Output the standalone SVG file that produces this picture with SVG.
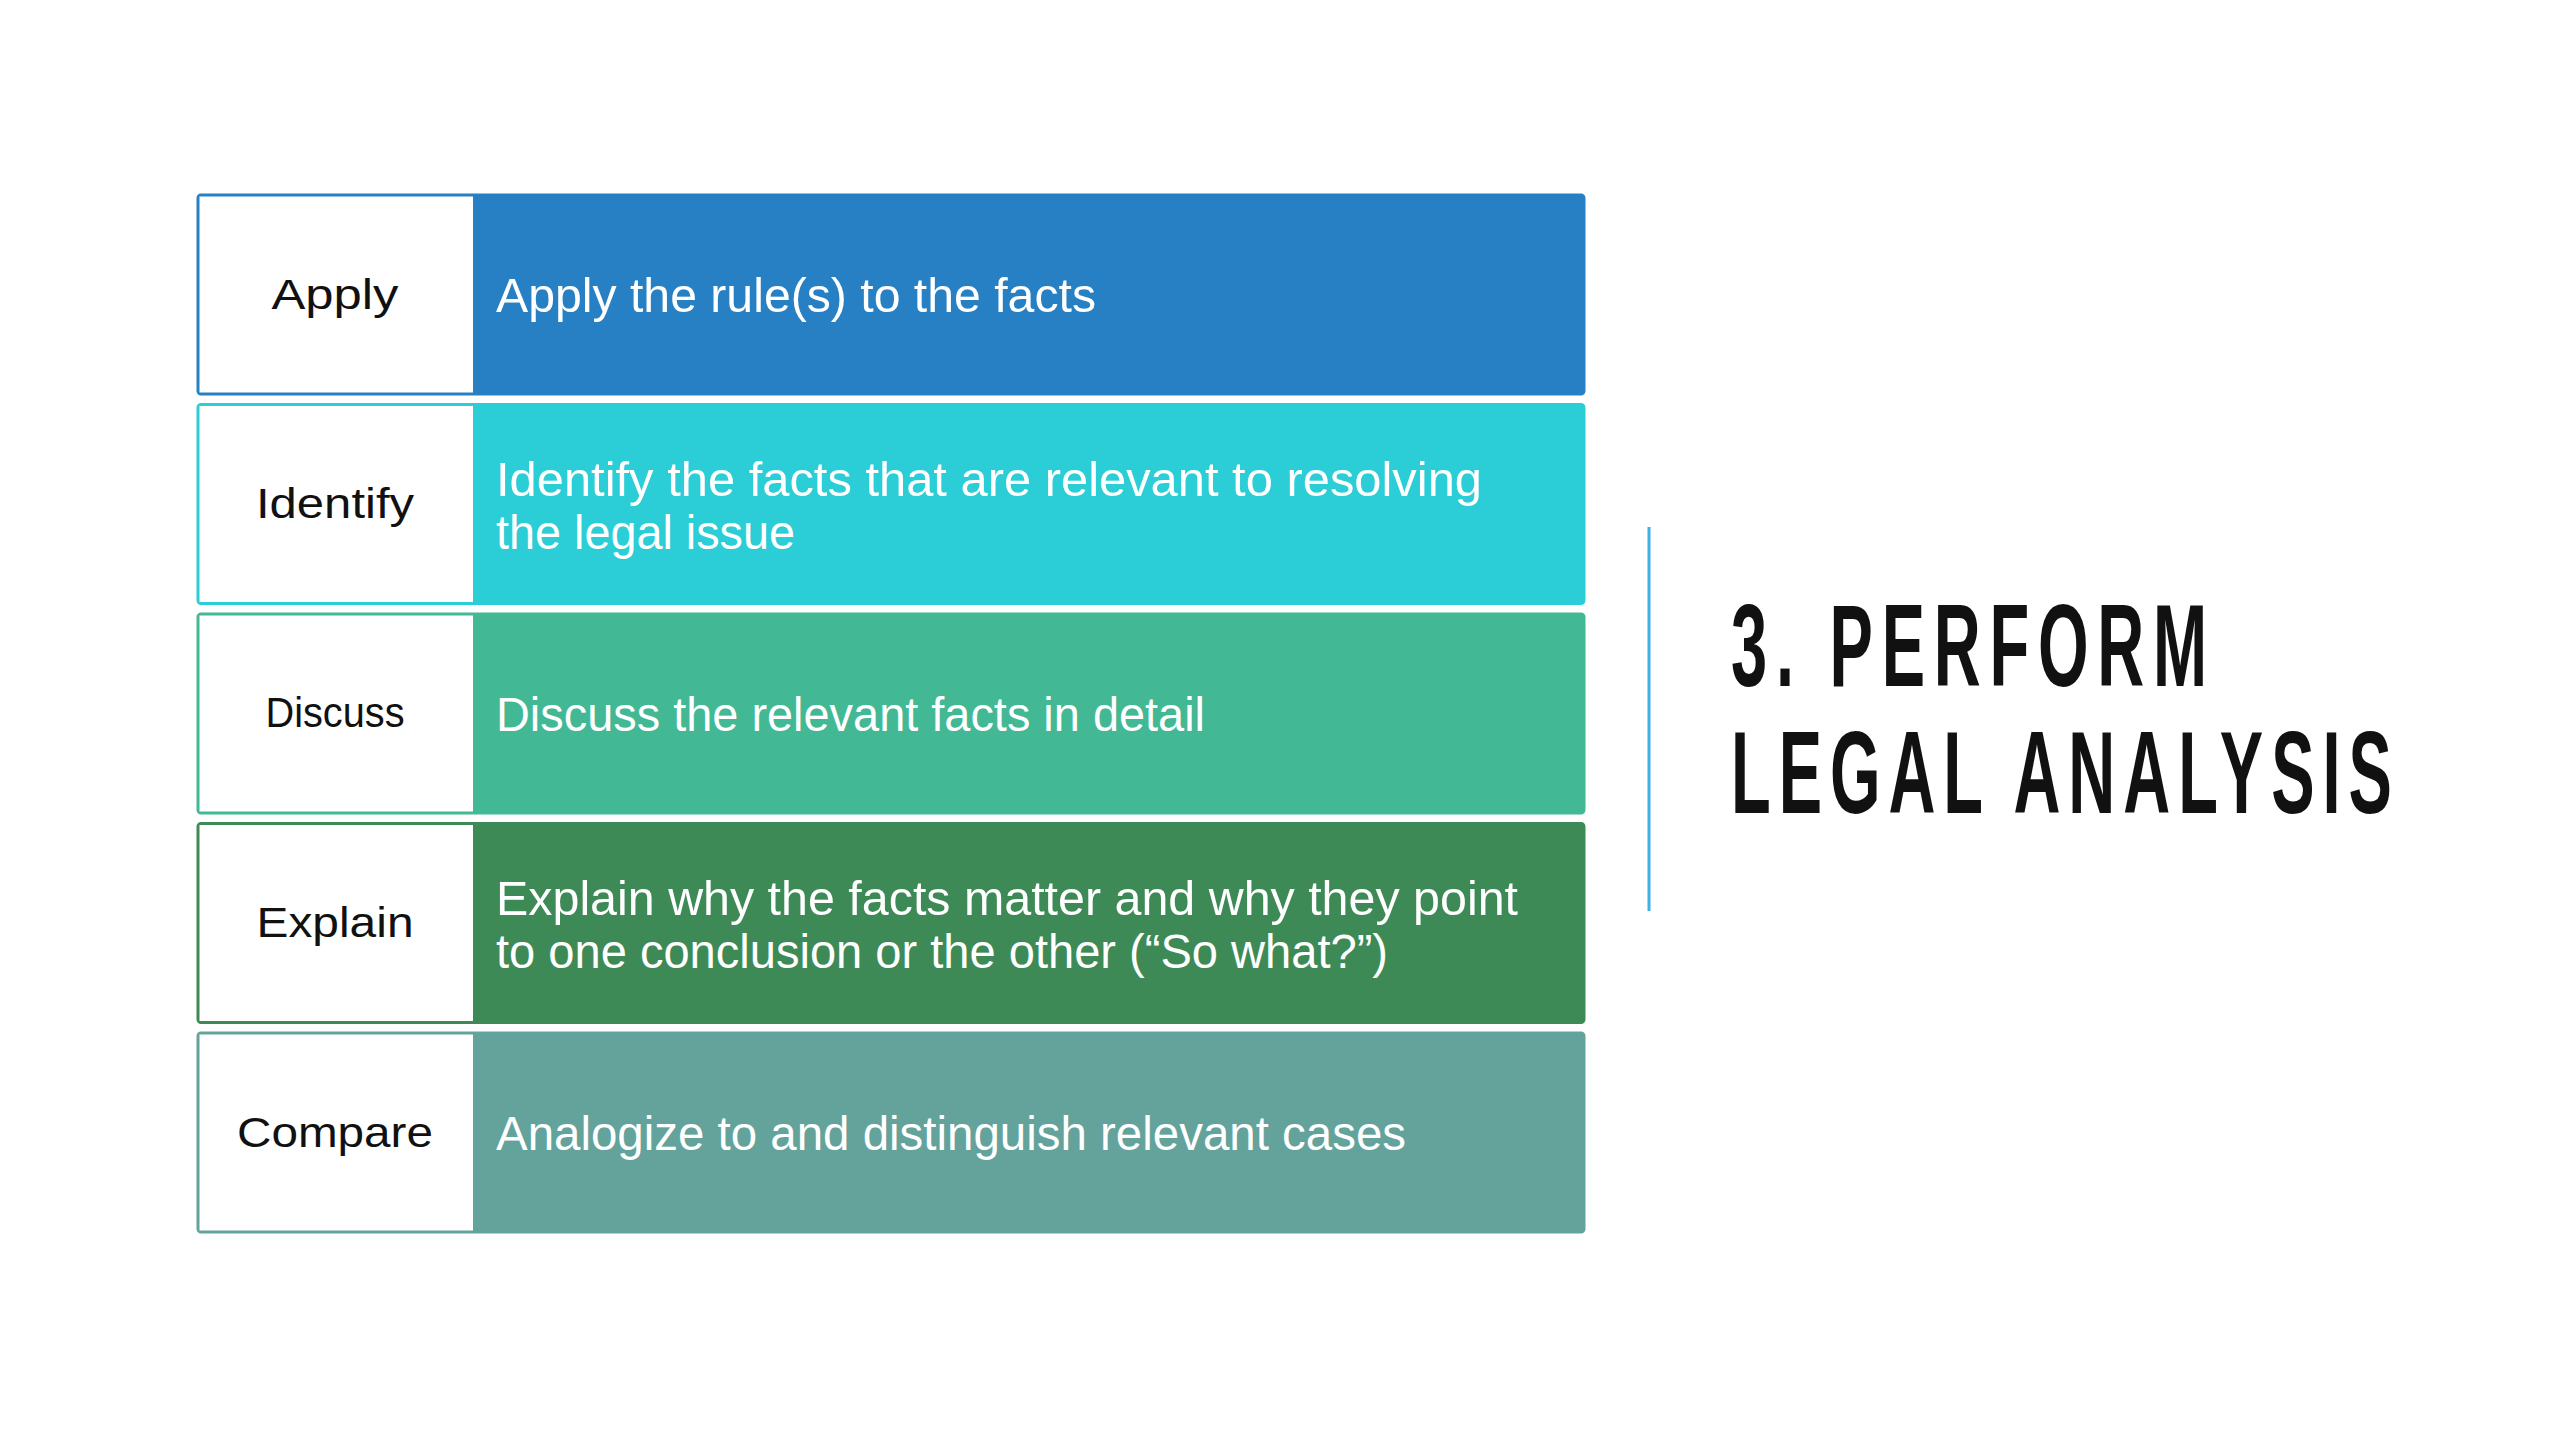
<svg xmlns="http://www.w3.org/2000/svg" width="2560" height="1440" viewBox="0 0 2560 1440">
  <style>
    .lbl { font-family: "Liberation Sans", Arial, sans-serif; font-size: 43px; fill: #111111; text-anchor: middle; }
    .desc { font-family: "Liberation Sans", Arial, sans-serif; font-size: 48px; fill: #ffffff; }
    .title { font-family: "Liberation Sans", Arial, sans-serif; font-size: 116px; font-weight: bold; fill: #111111; }
    .box { fill: #ffffff; }
  </style>
  <rect x="0" y="0" width="2560" height="1440" fill="#ffffff"/>

  <g id="row-apply">
    <rect x="198" y="195" width="1386" height="199" rx="3" fill="#2880c4" stroke="#2880c4" stroke-width="3"/>
    <rect class="box" x="199.5" y="196.5" width="273.5" height="196"/>
    <text class="lbl" x="335" y="309" textLength="127" lengthAdjust="spacingAndGlyphs">Apply</text>
    <text class="desc" x="496" y="312" textLength="600" lengthAdjust="spacingAndGlyphs">Apply the rule(s) to the facts</text>
  </g>

  <g id="row-identify">
    <rect x="198" y="404.5" width="1386" height="199" rx="3" fill="#2bcdd6" stroke="#2bcdd6" stroke-width="3"/>
    <rect class="box" x="199.5" y="406" width="273.5" height="196"/>
    <text class="lbl" x="335" y="518" textLength="158" lengthAdjust="spacingAndGlyphs">Identify</text>
    <text class="desc" x="496" y="496" textLength="986" lengthAdjust="spacingAndGlyphs">Identify the facts that are relevant to resolving</text>
    <text class="desc" x="496" y="549" textLength="299" lengthAdjust="spacingAndGlyphs">the legal issue</text>
  </g>

  <g id="row-discuss">
    <rect x="198" y="614" width="1386" height="199" rx="3" fill="#43b895" stroke="#43b895" stroke-width="3"/>
    <rect class="box" x="199.5" y="615.5" width="273.5" height="196"/>
    <text class="lbl" x="335" y="727" textLength="139" lengthAdjust="spacingAndGlyphs">Discuss</text>
    <text class="desc" x="496" y="731" textLength="709" lengthAdjust="spacingAndGlyphs">Discuss the relevant facts in detail</text>
  </g>

  <g id="row-explain">
    <rect x="198" y="823.5" width="1386" height="199" rx="3" fill="#3e8a56" stroke="#3e8a56" stroke-width="3"/>
    <rect class="box" x="199.5" y="825" width="273.5" height="196"/>
    <text class="lbl" x="335" y="937" textLength="157" lengthAdjust="spacingAndGlyphs">Explain</text>
    <text class="desc" x="496" y="915" textLength="1022" lengthAdjust="spacingAndGlyphs">Explain why the facts matter and why they point</text>
    <text class="desc" x="496" y="968" textLength="892" lengthAdjust="spacingAndGlyphs">to one conclusion or the other (“So what?”)</text>
  </g>

  <g id="row-compare">
    <rect x="198" y="1033" width="1386" height="199" rx="3" fill="#63a39c" stroke="#63a39c" stroke-width="3"/>
    <rect class="box" x="199.5" y="1034.5" width="273.5" height="196"/>
    <text class="lbl" x="335" y="1147" textLength="196" lengthAdjust="spacingAndGlyphs">Compare</text>
    <text class="desc" x="496" y="1150" textLength="910" lengthAdjust="spacingAndGlyphs">Analogize to and distinguish relevant cases</text>
  </g>

  <g id="connectors"></g>

  <g id="title">
    <line x1="1649" y1="527" x2="1649" y2="911" stroke="#3fb0e6" stroke-width="3"/>
    <g transform="translate(1731,0) scale(0.56,1)">
      <text class="title" x="0" y="686" textLength="850" lengthAdjust="spacing">3. PERFORM</text>
      <text class="title" x="0" y="813" textLength="1180" lengthAdjust="spacing">LEGAL ANALYSIS</text>
    </g>
  </g>
</svg>
